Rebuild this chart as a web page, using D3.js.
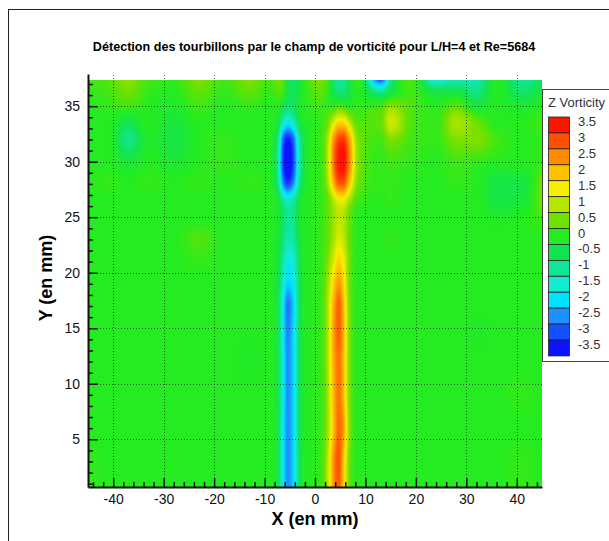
<!DOCTYPE html>
<html>
<head>
<meta charset="utf-8">
<script src="https://cdn.jsdelivr.net/npm/d3@7"></script>
<style>
  body { margin: 0; background: #fff; }
  svg { display: block; font-family: "Liberation Sans", Arial, sans-serif; }
  .grid line { stroke: #000; stroke-width: 1; stroke-dasharray: 1,2; stroke-opacity: 0.6; }
  .axis .domain { stroke: #111; stroke-width: 2; }
  .axis line { stroke: #111; stroke-width: 1.5; }
  .axis text { font-size: 14px; fill: #111; }
</style>
</head>
<body>
<div id="chart"></div>
<script>
const xNodes = [-45, -41, -37, -33, -28, -23, -18, -13, -9, -7.3, -6.4, -5.4, -4.3, -3, -1, 1,
    2.5, 3.7, 4.7, 5.6, 6.7, 8.5, 13, 15, 19, 24, 28, 32, 36, 41, 45];
const yNodes = [37.4, 36.3, 35, 33.5, 32, 30, 28, 26.5, 25, 23, 21, 19, 17, 15, 12, 9, 6, 3, 0.7]; // top row first

// Z vorticity, one row per yNodes entry, one column per xNodes entry
const vorticity = [
    [0.2, 0.3, 0.7, 0.2, 0.1, 0.6, 0.2, 0.6, 0.2, 0.5, 0.4, -0.4, -0.7, -0.3, 0.3, 0.6, 0.2, -0.7, -1.0, -1.0, -0.5, 0.1, -3.0, -1.0, 0.3, -1.6, -1.2, -1.2, 0.0, -1.0, -0.6],
    [0.1, 0.2, 0.5, 0.1, 0.0, 0.4, 0.1, 0.4, 0.1, 0.3, 0.2, -0.4, -0.6, -0.2, 0.2, 0.4, 0.1, -0.5, -0.8, -0.8, -0.4, 0.0, -1.0, -0.4, 0.2, -0.4, -0.4, -0.9, 0.0, -0.7, -0.3],
    [0.0, 0.1, 0.2, 0.0, -0.1, 0.2, 0.0, 0.1, 0.0, 0.0, -0.4, -0.7, -0.6, -0.2, 0.1, 0.2, 0.1, 0.1, 0.3, 0.2, 0.0, 0.1, 0.2, 0.7, 0.3, 0.0, 0.4, -0.3, 0.0, -0.2, 0.0],
    [0.0, 0.0, -0.5, 0.0, -0.3, 0.0, 0.0, 0.0, 0.0, -0.4, -1.3, -1.8, -1.4, -0.4, 0.0, 0.1, 0.5, 1.3, 1.8, 1.8, 1.2, 0.3, 0.4, 1.2, 0.3, 0.1, 0.9, 0.5, 0.0, 0.0, 0.2],
    [0.0, 0.0, -0.9, -0.1, -0.4, 0.0, 0.1, 0.0, 0.0, -1.0, -2.7, -3.4, -2.8, -1.0, 0.0, 0.1, 0.9, 2.4, 3.1, 3.2, 2.4, 0.6, 0.2, 0.6, 0.2, 0.1, 0.6, 0.6, 0.2, 0.0, 0.1],
    [0.0, 0.0, -0.3, 0.0, -0.2, 0.0, 0.1, 0.0, 0.0, -1.2, -3.0, -3.8, -3.1, -1.1, 0.0, 0.1, 1.0, 2.7, 3.5, 3.6, 2.7, 0.7, 0.1, 0.2, 0.1, 0.0, 0.2, 0.1, 0.0, 0.0, 0.1],
    [0.0, 0.1, 0.0, 0.1, 0.0, 0.1, 0.0, 0.1, 0.0, -0.9, -2.4, -3.1, -2.5, -0.8, 0.0, 0.1, 0.8, 2.1, 2.9, 2.9, 2.0, 0.5, 0.1, 0.1, 0.0, 0.0, 0.1, 0.0, -0.4, -0.4, 0.5],
    [0.0, 0.0, 0.0, 0.0, 0.0, 0.0, 0.0, 0.0, 0.0, -0.3, -1.0, -1.4, -1.1, -0.3, 0.0, 0.1, 0.4, 1.0, 1.4, 1.4, 0.9, 0.2, 0.0, 0.1, 0.0, 0.0, 0.0, 0.0, -0.4, -0.3, 0.5],
    [0.0, 0.0, 0.0, 0.0, 0.0, 0.0, 0.0, 0.0, 0.0, -0.2, -0.6, -1.0, -0.9, -0.2, 0.0, 0.1, 0.4, 0.8, 1.1, 1.0, 0.5, 0.0, 0.0, 0.0, 0.0, 0.0, 0.0, 0.0, -0.1, 0.0, 0.2],
    [0.0, 0.0, 0.0, 0.0, 0.0, 0.3, 0.0, 0.0, 0.0, -0.3, -0.7, -1.2, -1.1, -0.3, 0.0, 0.1, 0.4, 0.9, 1.3, 1.1, 0.5, 0.0, 0.0, 0.1, 0.0, 0.0, 0.0, 0.0, 0.0, 0.0, 0.0],
    [0.0, 0.0, 0.0, 0.0, 0.0, 0.1, 0.0, 0.0, 0.0, -0.4, -1.0, -1.7, -1.5, -0.4, 0.0, 0.1, 0.6, 1.3, 1.8, 1.5, 0.6, 0.0, 0.0, 0.0, 0.0, 0.0, 0.0, 0.0, 0.0, 0.0, 0.0],
    [0.0, 0.0, 0.0, 0.0, 0.0, 0.0, 0.0, 0.0, 0.0, -0.5, -1.3, -2.1, -1.8, -0.5, 0.0, 0.1, 0.8, 1.8, 2.4, 1.8, 0.6, 0.0, 0.0, 0.0, 0.0, 0.0, 0.0, 0.0, 0.0, 0.0, 0.0],
    [0.0, 0.0, 0.0, 0.0, 0.0, 0.0, 0.0, 0.0, 0.0, -0.5, -1.7, -2.7, -2.1, -0.5, 0.0, 0.1, 0.9, 2.2, 2.9, 2.1, 0.7, 0.0, 0.0, 0.0, 0.0, 0.0, 0.0, 0.0, 0.0, 0.0, 0.0],
    [0.0, 0.0, 0.0, 0.0, 0.0, 0.0, 0.0, 0.0, 0.0, -0.5, -1.7, -2.6, -2.0, -0.5, 0.0, 0.1, 0.9, 2.3, 2.9, 2.2, 0.7, 0.0, 0.0, 0.0, 0.0, 0.0, 0.0, -0.1, 0.0, 0.0, 0.0],
    [0.0, 0.0, 0.0, 0.0, 0.0, 0.0, 0.0, -0.1, 0.0, -0.5, -1.6, -2.5, -2.0, -0.5, 0.0, 0.1, 0.9, 2.2, 2.7, 2.1, 0.7, 0.0, 0.0, 0.0, 0.0, 0.0, 0.0, 0.0, 0.0, 0.0, 0.0],
    [0.0, 0.0, 0.0, 0.0, 0.0, 0.0, 0.0, 0.0, 0.0, -0.5, -1.6, -2.5, -2.0, -0.5, 0.0, 0.1, 0.8, 2.1, 2.7, 2.1, 0.7, 0.0, 0.0, 0.0, 0.0, 0.0, 0.0, 0.0, 0.0, 0.1, 0.0],
    [0.0, 0.0, 0.0, 0.0, 0.0, 0.0, 0.0, 0.0, 0.0, -0.5, -1.7, -2.5, -2.0, -0.5, 0.0, 0.1, 0.8, 2.0, 2.8, 2.4, 0.8, 0.0, 0.0, 0.0, 0.0, 0.0, 0.0, 0.0, 0.0, 0.0, 0.0],
    [0.1, 0.0, 0.0, 0.0, 0.0, 0.0, 0.0, 0.0, 0.0, -0.5, -1.7, -2.5, -2.0, -0.5, 0.0, 0.1, 1.0, 2.5, 3.0, 2.0, 0.6, 0.0, 0.0, 0.0, 0.0, 0.0, 0.0, 0.0, 0.0, 0.1, 0.0],
    [0.1, 0.0, 0.0, 0.0, 0.0, 0.0, 0.0, 0.0, 0.0, -0.5, -1.7, -2.5, -2.0, -0.5, 0.0, 0.1, 1.0, 2.4, 2.9, 1.9, 0.6, 0.0, 0.0, 0.0, 0.0, 0.0, 0.0, 0.0, 0.0, 0.1, 0.0]
];

const legendLevels = [3.5, 3, 2.5, 2, 1.5, 1, 0.5, 0, -0.5, -1, -1.5, -2, -2.5, -3, -3.5];
const legendColors = ["#ff1400", "#ff5000", "#ff8c00", "#ffc000", "#f5f000", "#b4e600", "#70e000",
    "#24ec20", "#12e450", "#10e696", "#14ebd2", "#00e1ff", "#1e90ff", "#1450ff", "#0a14ff"];

const xTicks = [-40, -30, -20, -10, 0, 10, 20, 30, 40];
const yTicks = [5, 10, 15, 20, 25, 30, 35];

const width = 609, height = 541;

let svg = d3.select("#chart").append("svg")
    .attr("width", width)
    .attr("height", height);

// outer frame of the figure
svg.append("rect")
    .attr("x", 8.5).attr("y", 9.5)
    .attr("width", 700).attr("height", 700)
    .attr("fill", "none").attr("stroke", "#222");

let x = d3.scaleLinear().domain([-45, 45]).range([88, 542]);
let y = d3.scaleLinear().domain([0.7, 37.9]).range([487, 74]);
let color = d3.scaleLinear().domain(legendLevels).range(legendColors).clamp(true);

// smooth 1-D hermite through the nodes (monotone, no overshoot)
function hermite(xs, ys) {
    let n = xs.length, d = [], m = [];
    for (let i = 0; i < n - 1; i++) d.push((ys[i + 1] - ys[i]) / (xs[i + 1] - xs[i]));
    m[0] = d[0];
    m[n - 1] = d[n - 2];
    for (let i = 1; i < n - 1; i++) m[i] = d[i - 1] * d[i] <= 0 ? 0 : (d[i - 1] + d[i]) / 2;
    for (let i = 0; i < n - 1; i++) {
        if (d[i] === 0) { m[i] = 0; m[i + 1] = 0; continue; }
        let a = m[i] / d[i], b = m[i + 1] / d[i], s = a * a + b * b;
        if (s > 9) { let t = 3 / Math.sqrt(s); m[i] = t * a * d[i]; m[i + 1] = t * b * d[i]; }
    }
    return function (v) {
        let i = Math.max(0, Math.min(n - 2, d3.bisectRight(xs, v) - 1));
        let h = xs[i + 1] - xs[i], t = Math.max(0, Math.min(1, (v - xs[i]) / h));
        let t2 = t * t, t3 = t2 * t;
        return (2 * t3 - 3 * t2 + 1) * ys[i] + (t3 - 2 * t2 + t) * h * m[i]
            + (-2 * t3 + 3 * t2) * ys[i + 1] + (t3 - t2) * h * m[i + 1];
    };
}

// flood the field onto a canvas, then put it in the svg
let x0 = Math.round(x(xNodes[0])), x1 = Math.round(x(xNodes[xNodes.length - 1]));
let yTop = Math.round(y(yNodes[0])), yBot = Math.round(y(yNodes[yNodes.length - 1]));
let pw = x1 - x0, ph = yBot - yTop;

let yAsc = yNodes.slice().reverse();
let rowsAsc = vorticity.slice().reverse();
let rowSamples = rowsAsc.map(row => {
    let f = hermite(xNodes, row);
    return d3.range(pw).map(px => f(x.invert(x0 + px + 0.5)));
});

let canvas = document.createElement("canvas");
canvas.width = pw;
canvas.height = ph;
let ctx = canvas.getContext("2d");
let img = ctx.createImageData(pw, ph);
for (let px = 0; px < pw; px++) {
    let f = hermite(yAsc, rowSamples.map(r => r[px]));
    for (let py = 0; py < ph; py++) {
        let c = d3.rgb(color(f(y.invert(yTop + py + 0.5))));
        let k = (py * pw + px) * 4;
        img.data[k] = c.r; img.data[k + 1] = c.g; img.data[k + 2] = c.b; img.data[k + 3] = 255;
    }
}
ctx.putImageData(img, 0, 0);

svg.append("image")
    .attr("x", x0).attr("y", yTop)
    .attr("width", pw).attr("height", ph)
    .attr("preserveAspectRatio", "none")
    .attr("href", canvas.toDataURL());

// dotted grid
let grid = svg.append("g").attr("class", "grid");
grid.selectAll(".vx").data(xTicks).enter().append("line")
    .attr("x1", d => Math.round(x(d)) + 0.5).attr("x2", d => Math.round(x(d)) + 0.5)
    .attr("y1", y.range()[0]).attr("y2", y.range()[1]);
grid.selectAll(".hy").data(yTicks).enter().append("line")
    .attr("x1", x.range()[0]).attr("x2", x.range()[1])
    .attr("y1", d => Math.round(y(d)) + 0.5).attr("y2", d => Math.round(y(d)) + 0.5);

// axes: major ticks inward with labels, minor ticks without
let xMinor = d3.range(-44, 45, 2).filter(d => d % 10 !== 0);
let yMinor = d3.range(1, 38).filter(d => d % 5 !== 0);

svg.append("g")
    .attr("class", "axis")
    .attr("transform", "translate(0," + y.range()[0] + ")")
    .call(d3.axisBottom(x).tickValues(xMinor).tickSize(-5).tickFormat(""))
    .call(g => g.select(".domain").remove());
svg.append("g")
    .attr("class", "axis")
    .attr("transform", "translate(0," + y.range()[0] + ")")
    .call(d3.axisBottom(x).tickValues(xTicks).tickSizeInner(-9).tickSizeOuter(0).tickPadding(7)
        .tickFormat(d => d.toString()));

svg.append("g")
    .attr("class", "axis")
    .attr("transform", "translate(" + x.range()[0] + ",0)")
    .call(d3.axisLeft(y).tickValues(yMinor).tickSize(-5).tickFormat(""))
    .call(g => g.select(".domain").remove());
svg.append("g")
    .attr("class", "axis")
    .attr("transform", "translate(" + x.range()[0] + ",0)")
    .call(d3.axisLeft(y).tickValues(yTicks).tickSizeInner(-10).tickSizeOuter(0).tickPadding(8)
        .tickFormat(d => d.toString()));

// titles
svg.append("text")
    .attr("x", 314).attr("y", 51)
    .attr("text-anchor", "middle")
    .style("font-size", "12.6px")
    .style("font-weight", "bold")
    .text("Détection des tourbillons par le champ de vorticité pour L/H=4 et Re=5684");

svg.append("text")
    .attr("x", 315).attr("y", 525)
    .attr("text-anchor", "middle")
    .style("font-size", "18px")
    .style("font-weight", "bold")
    .text("X (en mm)");

svg.append("text")
    .attr("transform", "translate(52,278) rotate(-90)")
    .attr("text-anchor", "middle")
    .style("font-size", "18px")
    .style("font-weight", "bold")
    .text("Y (en mm)");

// legend
let legend = svg.append("g");
legend.append("rect")
    .attr("x", 542.5).attr("y", 89.5)
    .attr("width", 100).attr("height", 272)
    .attr("fill", "#fff").attr("stroke", "#444");
legend.append("text")
    .attr("x", 548).attr("y", 107)
    .style("font-size", "13px").style("fill", "#333")
    .text("Z Vorticity");

let swatchH = 15.93;
legend.selectAll(".swatch").data(legendLevels).enter().append("rect")
    .attr("x", 548.5)
    .attr("y", (d, i) => 117 + i * swatchH)
    .attr("width", 21)
    .attr("height", swatchH)
    .attr("fill", d => color(d))
    .attr("stroke", "#222")
    .attr("stroke-width", 0.8);
legend.selectAll(".lab").data(legendLevels).enter().append("text")
    .attr("x", 578)
    .attr("y", (d, i) => 117 + i * swatchH + 8 + 1)
    .style("font-size", "13px").style("fill", "#333")
    .text(d => d.toString());
</script>
</body>
</html>
